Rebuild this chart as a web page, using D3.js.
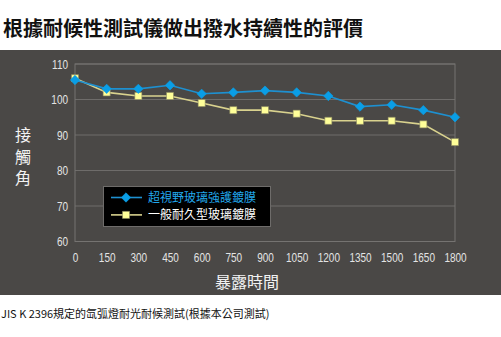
<!DOCTYPE html>
<html>
<head>
<meta charset="utf-8">
<script src="https://cdn.jsdelivr.net/npm/d3@7"></script>
<style>
  html, body { margin: 0; padding: 0; background: #fff; }
  svg { display: block; }
  .tick text { font-family: "Liberation Sans", Arial, sans-serif; }
</style>
</head>
<body>
<script>
// Exposure time (hours) on the x axis
const hours = [0, 150, 300, 450, 600, 750, 900, 1050, 1200, 1350, 1500, 1650, 1800];
// Contact angle (degrees) for each coating
const superViewCoating = [105.5, 103, 103, 104, 101.6, 102, 102.5, 102, 101, 98, 98.5, 97, 95];
const standardCoating = [106, 102, 101, 101, 99, 97, 97, 96, 94, 94, 94, 93, 88];
const seriesNames = ["超視野玻璃強護鍍膜", "一般耐久型玻璃鍍膜"];
const yTicks = [60, 70, 80, 90, 100, 110];
const xTicks = hours;

const W = 501, H = 337;
const svg = d3.select("body").append("svg").attr("width", W).attr("height", H);

// Title
svg.append("text")
  .attr("x", 3).attr("y", 36)
  .attr("font-family", "'Noto Sans CJK TC', sans-serif")
  .attr("font-weight", 700)
  .attr("font-size", 20)
  .attr("fill", "#111")
  .text("根據耐候性測試儀做出撥水持續性的評價");

// Dark chart panel
svg.append("rect")
  .attr("x", 0).attr("y", 50).attr("width", W).attr("height", 245)
  .attr("fill", "#4a4846");

const plot = { left: 75, right: 455, top: 64, bottom: 241.5 };
const x = d3.scaleLinear().domain([0, 1800]).range([plot.left, plot.right]);
const y = d3.scaleLinear().domain([60, 110]).range([plot.bottom, plot.top]);

// Horizontal gridlines
svg.append("g")
  .selectAll("line")
  .data(yTicks)
  .join("line")
  .attr("x1", plot.left).attr("x2", plot.right)
  .attr("y1", d => y(d)).attr("y2", d => y(d))
  .attr("stroke", "#6e6c6a").attr("stroke-width", 1);

// Plot frame
svg.append("rect")
  .attr("x", plot.left).attr("y", plot.top)
  .attr("width", plot.right - plot.left).attr("height", plot.bottom - plot.top)
  .attr("fill", "none").attr("stroke", "#757371").attr("stroke-width", 1);

// Axes (tick labels squeezed horizontally to a condensed look)
const yAxis = svg.append("g")
  .attr("transform", `translate(${plot.left - 7},0)`)
  .call(d3.axisLeft(y).tickValues(yTicks).tickFormat(d3.format("d")).tickSize(0).tickPadding(0));
const xAxis = svg.append("g")
  .attr("transform", `translate(0,${plot.bottom + 9})`)
  .call(d3.axisBottom(x).tickValues(xTicks).tickFormat(d3.format("d")).tickSize(0).tickPadding(0));
[yAxis, xAxis].forEach(g => {
  g.select(".domain").remove();
  g.selectAll(".tick text")
    .attr("fill", "#e4e4e4")
    .attr("font-size", 12.5)
    .attr("transform", "scale(0.8,1)");
});
xAxis.selectAll(".tick text").attr("dy", "0.95em");

// Axis titles
svg.append("text")
  .attr("x", 247).attr("y", 288)
  .attr("text-anchor", "middle")
  .attr("font-family", "'Noto Sans CJK TC', sans-serif")
  .attr("font-size", 16)
  .attr("fill", "#f2f2f2")
  .text("暴露時間");

// Vertical y-axis title, one character per row
svg.append("text")
  .attr("x", 23)
  .attr("y", 127)
  .attr("writing-mode", "vertical-rl")
  .style("writing-mode", "vertical-rl")
  .style("text-orientation", "upright")
  .attr("letter-spacing", 5.5)
  .attr("font-family", "'Noto Sans CJK TC', sans-serif")
  .attr("font-size", 16)
  .attr("fill", "#f2f2f2")
  .text("接觸角");

// Series lines and markers
const diamond = d3.symbol().type(d3.symbolSquare).size(44);
const square = d3.symbol().type(d3.symbolSquare).size(50);
const series = [
  { name: seriesNames[0], values: superViewCoating, line: "#1e90d0", fill: "#0a9ee6", stroke: "#0a9ee6", sym: diamond, rot: 45, text: "#22a8ec" },
  { name: seriesNames[1], values: standardCoating, line: "#d9d28e", fill: "#ffff99", stroke: "#8a8660", sym: square, rot: 0, text: "#ffffff" }
];

const line = d3.line().x(d => x(d[0])).y(d => y(d[1]));

// draw the standard coating first so the blue series sits on top
[series[1], series[0]].forEach(s => {
  const pts = hours.map((h, i) => [h, s.values[i]]);
  svg.append("path")
    .datum(pts)
    .attr("d", line)
    .attr("fill", "none")
    .attr("stroke", s.line)
    .attr("stroke-width", 1.6);
  svg.append("g")
    .selectAll("path")
    .data(pts)
    .join("path")
    .attr("transform", d => `translate(${x(d[0])},${y(d[1])}) rotate(${s.rot})`)
    .attr("d", s.sym)
    .attr("fill", s.fill)
    .attr("stroke", s.stroke)
    .attr("stroke-width", 0.6);
});

// Legend
const legend = svg.append("g");
legend.append("rect")
  .attr("x", 103.5).attr("y", 186.5).attr("width", 167).attr("height", 40)
  .attr("fill", "#000").attr("stroke", "#6e6c6a").attr("stroke-width", 1);
series.forEach((s, i) => {
  const ly = 197.5 + i * 17.4;
  legend.append("line")
    .attr("x1", 111).attr("x2", 142).attr("y1", ly).attr("y2", ly)
    .attr("stroke", s.line).attr("stroke-width", 1.6);
  legend.append("path")
    .attr("transform", `translate(126,${ly}) rotate(${s.rot})`)
    .attr("d", s.sym)
    .attr("fill", s.fill).attr("stroke", s.stroke).attr("stroke-width", 0.6);
  legend.append("text")
    .attr("x", 148).attr("y", ly + 4.3)
    .attr("font-family", "'Noto Sans CJK TC', sans-serif")
    .attr("font-size", 12)
    .attr("fill", s.text)
    .text(s.name);
});

// Footnote
svg.append("text")
  .attr("x", 1).attr("y", 318)
  .attr("font-family", "'Noto Sans CJK TC', sans-serif")
  .attr("font-size", 11)
  .attr("fill", "#111")
  .text("JIS K 2396規定的氙弧燈耐光耐候測試(根據本公司測試)");
</script>
</body>
</html>
